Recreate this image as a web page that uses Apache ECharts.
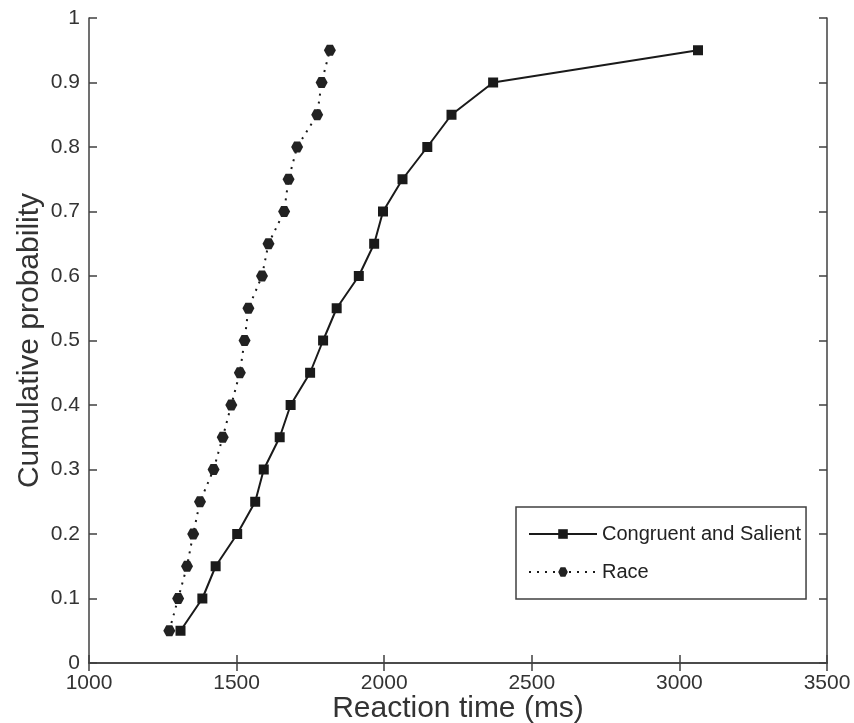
<!DOCTYPE html>
<html>
<head>
<meta charset="utf-8">
<script src="https://cdn.jsdelivr.net/npm/echarts@6/dist/echarts.min.js"></script>
<style>
html,body{margin:0;padding:0;background:#fff;}
#chart{width:854px;height:723px;}
</style>
</head>
<body>
<div id="chart"></div>
<script>
var probabilities = [0.05, 0.10, 0.15, 0.20, 0.25, 0.30, 0.35, 0.40, 0.45, 0.50, 0.55, 0.60, 0.65, 0.70, 0.75, 0.80, 0.85, 0.90, 0.95];
var congruentSalientRT = [1310, 1384, 1429, 1502, 1563, 1592, 1646, 1683, 1749, 1793, 1839, 1914, 1966, 1996, 2062, 2146, 2228, 2369, 3063];
var raceRT = [1272, 1302, 1332, 1353, 1376, 1422, 1453, 1482, 1511, 1527, 1540, 1586, 1608, 1661, 1676, 1705, 1773, 1788, 1816];
var seriesNames = ['Congruent and Salient', 'Race'];
var xTitle = 'Reaction time (ms)';
var yTitle = 'Cumulative probability';

function pairs(xs, ys) { return xs.map(function (x, i) { return [x, ys[i]]; }); }

var FONT = '"Liberation Sans", Arial, Helvetica, sans-serif';
var AX = '#404040';
var hexagon = 'path://M0,5 L2.9,0 L8.7,0 L11.6,5 L8.7,10 L2.9,10 Z';

var chart = echarts.init(document.getElementById('chart'));
var baseAxis = {
  axisLine: { show: true, lineStyle: { color: AX, width: 1.5 } },
  axisTick: { show: true, inside: true, length: 8, lineStyle: { color: AX, width: 1.5 } },
  splitLine: { show: false }
};
chart.setOption({
  animation: false,
  backgroundColor: '#fff',
  grid: { left: 89, right: 27, top: 18, bottom: 60, containLabel: false, outerBoundsMode: 'none' },
  xAxis: [
    Object.assign({}, baseAxis, {
      type: 'value', position: 'bottom', min: 1000, max: 3500, interval: 500,
      name: xTitle, nameLocation: 'middle', nameGap: 31, nameMoveOverlap: false,
      nameTextStyle: { fontFamily: FONT, fontSize: 30, color: '#333' },
      axisLabel: { fontFamily: FONT, fontSize: 21, color: '#333', margin: 10,
        formatter: function (v) { return String(v); } }
    }),
    Object.assign({}, baseAxis, {
      type: 'value', position: 'top', min: 1000, max: 3500, interval: 500,
      axisLabel: { show: false }
    })
  ],
  yAxis: [
    Object.assign({}, baseAxis, {
      type: 'value', position: 'left', min: 0, max: 1, interval: 0.1,
      name: yTitle, nameLocation: 'middle', nameGap: 44, nameMoveOverlap: false,
      nameTextStyle: { fontFamily: FONT, fontSize: 30, color: '#333' },
      axisLabel: { fontFamily: FONT, fontSize: 21, color: '#333', margin: 9,
        formatter: function (v) { return String(Math.round(v * 10) / 10); } }
    }),
    Object.assign({}, baseAxis, {
      type: 'value', position: 'right', min: 0, max: 1, interval: 0.1,
      axisLabel: { show: false }
    })
  ],
  legend: {
    orient: 'vertical', left: 516, top: 507,
    borderColor: AX, borderWidth: 1.5, padding: [17, 5, 17, 12],
    itemWidth: 68, itemHeight: 12, itemGap: 18,
    textStyle: { fontFamily: FONT, fontSize: 20, color: '#222' },
    data: seriesNames
  },
  series: [
    {
      name: seriesNames[0], type: 'line', xAxisIndex: 0, yAxisIndex: 0,
      data: pairs(congruentSalientRT, probabilities),
      symbol: 'rect', symbolSize: 10,
      itemStyle: { color: '#1a1a1a' },
      lineStyle: { color: '#1a1a1a', width: 2 }
    },
    {
      name: seriesNames[1], type: 'line', xAxisIndex: 0, yAxisIndex: 0,
      data: pairs(raceRT, probabilities),
      symbol: hexagon, symbolSize: [12, 11],
      itemStyle: { color: '#222' },
      lineStyle: { color: '#1a1a1a', width: 2, type: [2, 6] }
    }
  ]
});
</script>
</body>
</html>
